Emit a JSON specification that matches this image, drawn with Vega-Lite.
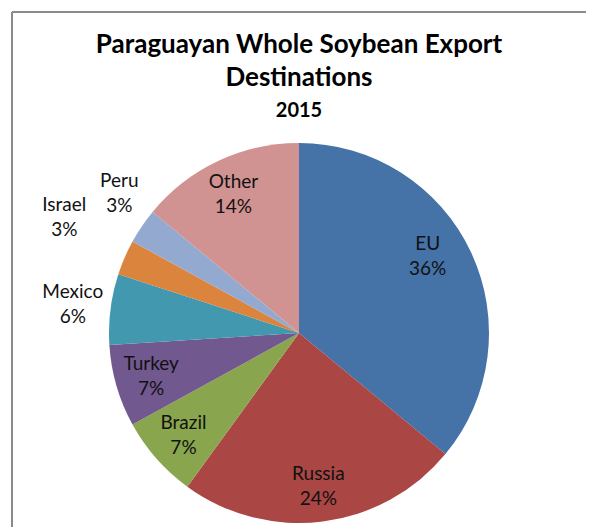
{
  "$schema": "https://vega.github.io/schema/vega-lite/v6.json",
  "autosize": {"type": "none"},
  "padding": {"left": 12, "top": 12, "right": 7, "bottom": -127},
  "width": 574,
  "height": 642,
  "background": "white",
  "config": {
    "view": {"stroke": null},
    "font": "Lato"
  },
  "title": {
    "text": ["Paraguayan Whole Soybean Export", "Destinations"],
    "subtitle": "2015",
    "font": "Lato",
    "fontSize": 26,
    "fontWeight": "bold",
    "lineHeight": 33,
    "color": "#000000",
    "subtitleFont": "Lato",
    "subtitleFontSize": 20,
    "subtitleFontWeight": "bold",
    "subtitleColor": "#000000",
    "subtitlePadding": 10,
    "anchor": "middle",
    "frame": "group",
    "offset": -110
  },
  "data": {
    "values": [
      {"country": "EU", "share": 36, "idx": 1},
      {"country": "Russia", "share": 24, "idx": 2},
      {"country": "Brazil", "share": 7, "idx": 3},
      {"country": "Turkey", "share": 7, "idx": 4},
      {"country": "Mexico", "share": 6, "idx": 5},
      {"country": "Israel", "share": 3, "idx": 6},
      {"country": "Peru", "share": 3, "idx": 7},
      {"country": "Other", "share": 14, "idx": 8}
    ]
  },
  "transform": [
    {"calculate": "[datum.country, datum.share + '%']", "as": "label"}
  ],
  "layer": [
    {
      "data": {"values": [{"frame": "top"}]},
      "mark": {"type": "rule", "stroke": "#8a8a8a", "strokeWidth": 2},
      "encoding": {"y": {"value": 0}}
    },
    {
      "data": {"values": [{"frame": "left"}]},
      "mark": {"type": "rule", "stroke": "#8a8a8a", "strokeWidth": 2},
      "encoding": {"x": {"value": 0}}
    },
    {
      "mark": {"type": "arc", "outerRadius": 190},
      "encoding": {
        "theta": {"field": "share", "type": "quantitative", "stack": true},
        "order": {"field": "idx", "type": "quantitative"},
        "color": {
          "field": "country",
          "type": "nominal",
          "legend": null,
          "scale": {
            "domain": ["EU", "Russia", "Brazil", "Turkey", "Mexico", "Israel", "Peru", "Other"],
            "range": ["#4572A7", "#AA4643", "#89A54E", "#71588F", "#4198AF", "#DB843D", "#93A9CF", "#D19392"]
          }
        }
      }
    },
    {
      "mark": {"type": "text", "font": "Lato", "fontSize": 19, "lineHeight": 25, "color": "#111111", "baseline": "middle", "align": "center", "dy": -12, "radius": 150, "thetaOffset": -0.1},
      "encoding": {
        "theta": {"field": "share", "type": "quantitative", "stack": true},
        "order": {"field": "idx", "type": "quantitative"},
        "text": {"condition": {"test": "datum.country === 'EU'", "field": "label"}, "value": ""}
      }
    },
    {
      "mark": {"type": "text", "font": "Lato", "fontSize": 19, "lineHeight": 25, "color": "#111111", "baseline": "middle", "align": "center", "dy": -12, "radius": 154},
      "encoding": {
        "theta": {"field": "share", "type": "quantitative", "stack": true},
        "order": {"field": "idx", "type": "quantitative"},
        "text": {"condition": {"test": "datum.share >= 7 && datum.country !== 'EU'", "field": "label"}, "value": ""}
      }
    },
    {
      "mark": {"type": "text", "font": "Lato", "fontSize": 19, "lineHeight": 25, "color": "#111111", "baseline": "middle", "align": "center", "dy": -12, "radius": 228},
      "encoding": {
        "theta": {"field": "share", "type": "quantitative", "stack": true},
        "order": {"field": "idx", "type": "quantitative"},
        "text": {"condition": {"test": "datum.country === 'Mexico'", "field": "label"}, "value": ""}
      }
    },
    {
      "mark": {"type": "text", "font": "Lato", "fontSize": 19, "lineHeight": 25, "color": "#111111", "baseline": "middle", "align": "center", "dy": -12, "radius": 228, "thetaOffset": 0.066},
      "encoding": {
        "theta": {"field": "share", "type": "quantitative", "stack": true},
        "order": {"field": "idx", "type": "quantitative"},
        "text": {"condition": {"test": "datum.country === 'Peru'", "field": "label"}, "value": ""}
      }
    },
    {
      "mark": {"type": "text", "font": "Lato", "fontSize": 19, "lineHeight": 25, "color": "#111111", "baseline": "middle", "align": "center", "dy": -12, "radius": 262, "thetaOffset": 0.052},
      "encoding": {
        "theta": {"field": "share", "type": "quantitative", "stack": true},
        "order": {"field": "idx", "type": "quantitative"},
        "text": {"condition": {"test": "datum.country === 'Israel'", "field": "label"}, "value": ""}
      }
    }
  ]
}
